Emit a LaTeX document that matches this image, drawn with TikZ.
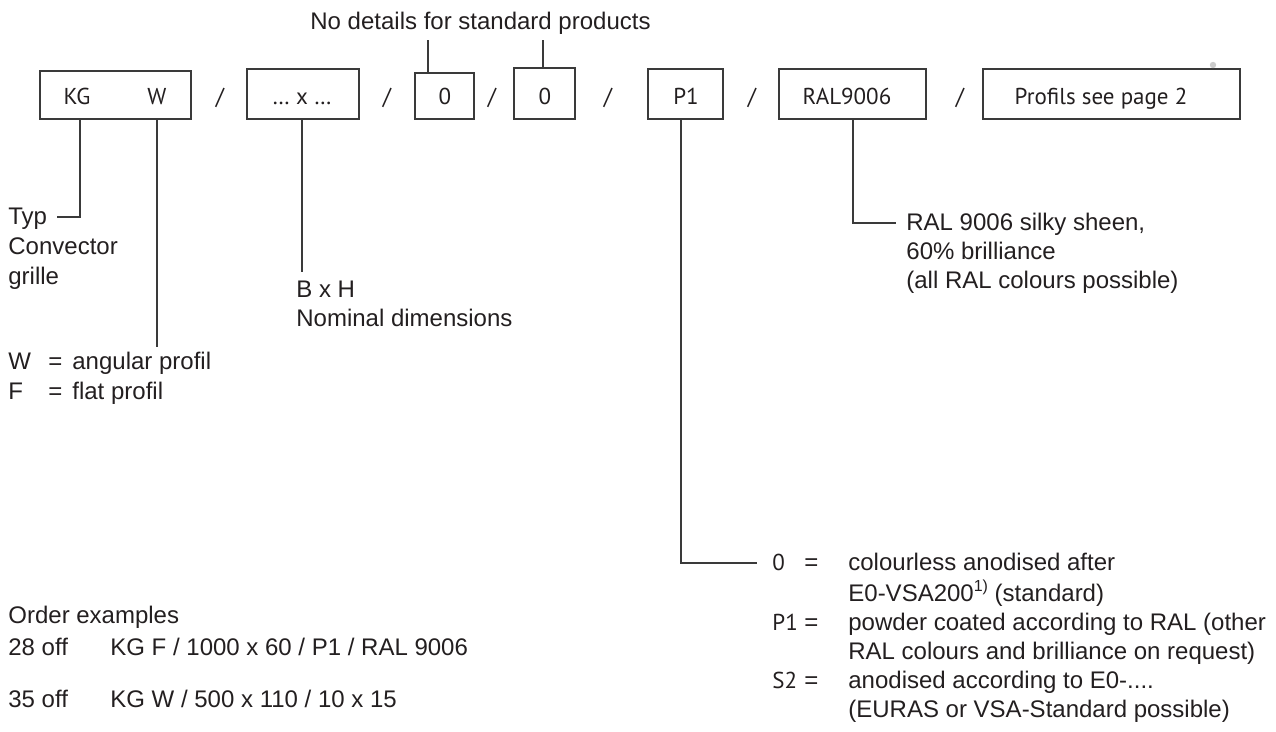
\documentclass[tikz,border=0pt]{standalone}
\usepackage{fontspec}
\setmainfont{Liberation Sans}
\newfontfamily\myr{PT Sans}
\definecolor{ink}{HTML}{231F20}
\definecolor{lineclr}{HTML}{3A3A3A}
\begin{document}
\begin{tikzpicture}[x=0.5pt,y=-0.5pt,
  hv/.style={font=\fontsize{12}{15}\selectfont, text=ink, inner sep=0pt},
  hvl/.style={font=\fontsize{12}{14.5}\selectfont, text=ink, inner sep=0pt},
  my/.style={font=\myr\fontsize{11.5}{14}\selectfont, text=ink, inner sep=0pt},
  codebox/.style={draw=lineclr, line width=0.65pt, inner sep=0pt, minimum height=25pt},
  lead/.style={draw=lineclr, line width=0.65pt}]
\useasboundingbox (0,0) rectangle (1276,732);

% code boxes
\node[codebox, minimum width=75.5pt, minimum height=24pt] (b1) at (115.5,95) {};
\node[codebox, minimum width=56pt] (b2) at (303,94) {};
\node[codebox, minimum width=29.5pt, minimum height=23pt] (b3) at (444.5,96) {};
\node[codebox, minimum width=30.5pt, minimum height=25.5pt] (b4) at (544.5,93.5) {};
\node[codebox, minimum width=37.5pt] (b5) at (685.5,94) {};
\node[codebox, minimum width=73.5pt] (b6) at (852.5,94) {};
\node[codebox, minimum width=128.5pt] (b7) at (1111.5,94) {};

% box texts
\node[my, anchor=base] (kg) at (77,105) {KG};
\node[my, anchor=base] (wt) at (157,105) {W};
\node[my, anchor=base] (dims) at (302,105) {… x …};
\node[my, anchor=base] (z1) at (445,105) {0};
\node[my, anchor=base] (z2) at (545,105) {0};
\node[my, anchor=base] (p1) at (686,105) {P1};
\node[my, anchor=base] (ral) at (847,105) {RAL9006};
\node[my, anchor=base] (prof) at (1101,105) {Profils see page 2};

% slashes
\node[my, anchor=base] (s1) at (220,105) {/};
\node[my, anchor=base] (s2) at (387,105) {/};
\node[my, anchor=base] (s3) at (492,105) {/};
\node[my, anchor=base] (s4) at (608,105) {/};
\node[my, anchor=base] (s5) at (752,105) {/};
\node[my, anchor=base] (s6) at (960,105) {/};

\fill[gray!40] (1213,65) circle (1.6pt);

% top label
\node[hv, anchor=base west] (nodet) at (310,30) {No details for standard products};
\coordinate (b3top) at (428,40);
\coordinate (b4top) at (543,40);
\draw[lead] (b3top |- b3.north) -- (b3top);
\draw[lead] (b4top |- b4.north) -- (b4top);

% Typ
\node[hv, anchor=base west] (typ) at (8,225)
  {\begin{tabular}[t]{@{}l@{}}Typ\\Convector\\grille\end{tabular}};
\coordinate (kgx) at (80,0);
\coordinate (typend) at (57,217);
\draw[lead] (kgx |- b1.south) |- (typend);

% W / F
\coordinate (wend) at (157,347);
\draw[lead] (wend |- b1.south) -- (wend);
\node[hv, anchor=base west] (wf) at (8,370)
  {\begin{tabular}[t]{@{}l@{}}\makebox[20pt][l]{W}\makebox[12pt][l]{=}angular profil\\
   \makebox[20pt][l]{F}\makebox[12pt][l]{=}flat profil\end{tabular}};

% B x H
\coordinate (bxend) at (302,272);
\draw[lead] (bxend |- b2.south) -- (bxend);
\node[hvl, anchor=base west] (bxh) at (296,298)
  {\begin{tabular}[t]{@{}l@{}}B x H\\Nominal dimensions\end{tabular}};

% RAL
\coordinate (ralx) at (853,0);
\coordinate (ralend) at (896,223);
\draw[lead] (ralx |- b6.south) |- (ralend);
\node[hvl, anchor=base west] (raltxt) at (906,231)
  {\begin{tabular}[t]{@{}l@{}}RAL 9006 silky sheen,\\60\% brilliance\\(all RAL colours possible)\end{tabular}};

% P1 surface list
\coordinate (p1x) at (681,0);
\coordinate (p1end) at (757,563);
\draw[lead] (p1x |- b5.south) |- (p1end);
\node[hvl, anchor=base west] (surf) at (772,571)
  {\begin{tabular}[t]{@{}l@{}}
   \makebox[16pt][l]{\myr\fontsize{11.5}{14}\selectfont 0}\makebox[22pt][l]{=}colourless anodised after\\
   \makebox[38pt][l]{}E0-VSA200\raisebox{0.42em}{\fontsize{8}{8}\selectfont 1)} (standard)\\
   \makebox[16pt][l]{\myr\fontsize{11.5}{14}\selectfont P1}\makebox[22pt][l]{=}powder coated according to RAL (other\\
   \makebox[38pt][l]{}RAL colours and brilliance on request)\\
   \makebox[16pt][l]{\myr\fontsize{11.5}{14}\selectfont S2}\makebox[22pt][l]{=}anodised according to E0-....\\
   \makebox[38pt][l]{}(EURAS or VSA-Standard possible)\end{tabular}};

% order examples
\node[hv, anchor=base west] (ordt) at (8,624) {Order examples};
\node[hv, anchor=base west] (o1n) at (8,656) {28 off};
\node[hv, anchor=base west] (o1) at (110,656) {KG F / 1000 x 60 / P1 / RAL 9006};
\node[hv, anchor=base west] (o2n) at (8,708) {35 off};
\node[hv, anchor=base west] (o2) at (110,708) {KG W / 500 x 110 / 10 x 15};
\end{tikzpicture}
\end{document}
